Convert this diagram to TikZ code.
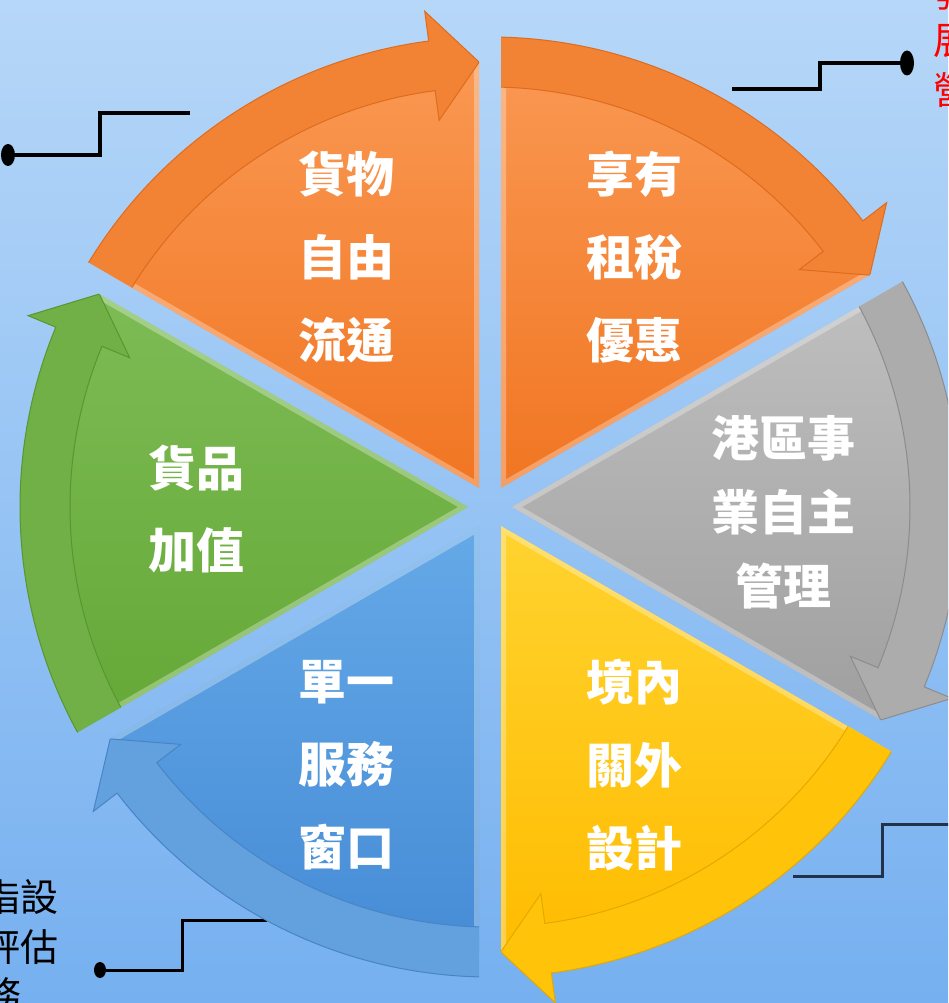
\documentclass[tikz,border=0pt]{standalone}
\usepackage{fontspec}
\usetikzlibrary{shapes.geometric}
\newfontfamily\cjk{Noto Sans CJK TC}

\definecolor{bgTop}{RGB}{182,215,248}
\definecolor{bgBot}{RGB}{118,176,240}
\definecolor{fOrangeHi}{RGB}{250,152,82}
\definecolor{fOrangeLo}{RGB}{240,116,32}
\definecolor{fOrangeBand}{RGB}{242,130,52}
\definecolor{fOrangeRim}{RGB}{222,108,30}
\definecolor{fGrayHi}{RGB}{192,192,192}
\definecolor{fGrayLo}{RGB}{158,158,158}
\definecolor{fGrayBand}{RGB}{172,172,172}
\definecolor{fGrayRim}{RGB}{140,140,140}
\definecolor{fYellowHi}{RGB}{255,212,50}
\definecolor{fYellowLo}{RGB}{255,188,0}
\definecolor{fYellowBand}{RGB}{255,196,10}
\definecolor{fYellowRim}{RGB}{228,168,0}
\definecolor{fBlueHi}{RGB}{102,170,232}
\definecolor{fBlueLo}{RGB}{70,140,214}
\definecolor{fBlueBand}{RGB}{98,160,222}
\definecolor{fBlueRim}{RGB}{72,132,198}
\definecolor{fGreenHi}{RGB}{126,188,86}
\definecolor{fGreenLo}{RGB}{100,168,54}
\definecolor{fGreenBand}{RGB}{112,176,70}
\definecolor{fGreenRim}{RGB}{88,150,48}
\definecolor{noteRed}{RGB}{255,0,0}
\definecolor{stepLine}{RGB}{35,50,75}

\begin{document}
\begin{tikzpicture}[x=1pt,y=1pt,
    label/.style={text=white, align=center, inner sep=0,
      font=\cjk\bfseries\fontsize{48}{83}\selectfont},
    dot/.style={ellipse, fill=black, inner sep=0,
      minimum width=14, minimum height=22},
    link/.style={line width=4, black},
    note/.style={inner sep=0, font=\cjk\fontsize{38}{50}\selectfont}]
  \useasboundingbox (-490,-496) rectangle (458,507);
  \clip (-490,-496) rectangle (458,507);
  \shade[top color=bgTop, bottom color=bgBot] (-490,-496) rectangle (458,507);

  % side notes, cut by the page edge
  \node[note, text=noteRed, anchor=west] (noteA) at (443,514) {發};
  \node[note, text=noteRed, anchor=west] (noteB) at (443,466) {展};
  \node[note, text=noteRed, anchor=west] (noteC) at (443,417) {營};
  \node[note, text=black, anchor=east] (noteD) at (-431,-390) {指設};
  \node[note, text=black, anchor=east] (noteE) at (-431,-440) {評估};
  \node[note, text=black, anchor=east] (noteF) at (-468,-488) {服務};

  % step connectors
  \node[dot] (tlDot) at (-482,352) {};
  \coordinate (tlCorner) at (-390,394);
  \coordinate (tlEnd) at (-300,394);
  \draw[link] (tlDot) -| (tlCorner) -- (tlEnd);
  \node[dot, minimum height=25] (trDot) at (417,444) {};
  \coordinate (trStart) at (242,418);
  \coordinate (trCorner) at (330,444);
  \draw[link] (trStart) -| (trCorner) -- (trDot);
  \coordinate (brStart) at (303,-369);
  \coordinate (brCorner) at (392,-317);
  \coordinate (brEnd) at (470,-317);
  \draw[link, line width=3, stepLine] (brStart) -| (brCorner) -- (brEnd);
  \node[dot, minimum width=12, minimum height=16] (blDot) at (-390,-463) {};
  \coordinate (blCorner) at (-307,-413);
  \coordinate (blEnd) at (-223,-413);
  \draw[link, line width=3] (blDot) -| (blCorner) -- (blEnd);

  % six wedges with clockwise arrows
  \foreach \ang/\col in {120/fOrange, 60/fOrange, 0/fGray,
                         -60/fYellow, -120/fBlue, 180/fGreen} {
    \begin{scope}
      \clip (\ang:22) -- ++(\ang-30:700) -- ++(\ang+90:700) -- cycle;
      \shade[top color=\col Hi, bottom color=\col Lo]
        (0,0) -- (\ang-31:445) arc[start angle=\ang-31, end angle=\ang+31, radius=445] -- cycle;
      \begin{scope}
        \clip (0,0) -- (\ang-31:445) arc[start angle=\ang-31, end angle=\ang+31, radius=445] -- cycle;
        \draw[white, opacity=.3, line width=10]
          (\ang:22) -- ++(\ang-30:700) -- ++(\ang+90:700) -- cycle;
      \end{scope}
      \filldraw[fill=\col Band, draw=\col Rim, line width=1]
        (\ang+31:470) arc[start angle=\ang+31, end angle=\ang-22.5, radius=470]
        -- (\ang-22.5:500) -- (\ang-28.6:445) -- (\ang-22.5:390)
        -- (\ang-22.5:420) arc[start angle=\ang-22.5, end angle=\ang+31, radius=420] -- cycle;
    \end{scope}
  }

  % wedge texts
  \node[label] (freeFlow) at (-143,250) {貨物\\自由\\流通};
  \node[label] (taxCut) at (144,250) {享有\\租稅\\優惠};
  \node[label, font=\cjk\bfseries\fontsize{48}{74}\selectfont]
    (selfRun) at (293,-5) {港區事\\業自主\\管理};
  \node[label] (bondZone) at (144,-258) {境內\\關外\\設計};
  \node[label] (oneStop) at (-143,-258) {單一\\服務\\窗口};
  \node[label, font=\cjk\bfseries\fontsize{48}{82}\selectfont]
    (addValue) at (-293,-2) {貨品\\加值};
\end{tikzpicture}
\end{document}
